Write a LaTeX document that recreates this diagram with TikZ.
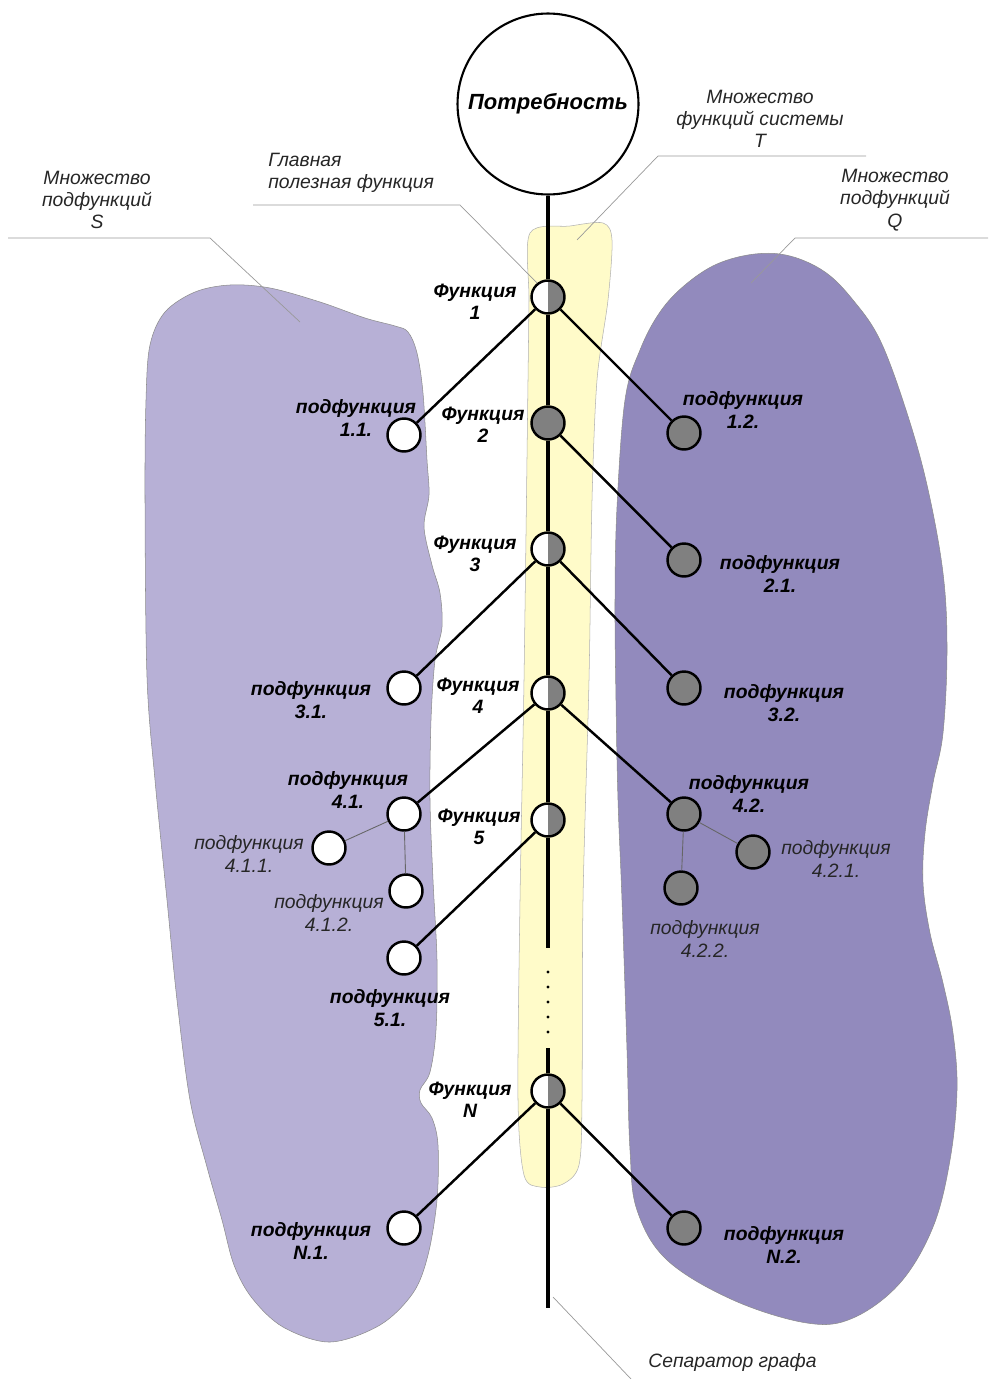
\documentclass[tikz,border=0pt]{standalone}
\usepackage{fontspec}
\setmainfont{Liberation Sans}
\usetikzlibrary{positioning, calc}

\definecolor{lavlight}{RGB}{183,176,214}
\definecolor{lavdark}{RGB}{146,138,189}
\definecolor{bandyellow}{RGB}{255,251,201}
\definecolor{nodegray}{RGB}{128,128,128}

\begin{document}
\begin{tikzpicture}[
    x=0.02cm, y=-0.02cm,
    blob/.style={draw=black!45, line width=0.3pt},
    need/.style={
        draw,
        circle,
        line width=1.2pt,
        minimum size=3.62cm,
        inner sep=0pt,
        font=\fontsize{12.5}{14}\selectfont\bfseries\itshape
    },
    wnode/.style={draw, circle, line width=1.4pt, fill=white, minimum size=0.66cm, inner sep=0pt},
    gnode/.style={wnode, fill=nodegray},
    hnode/.style={wnode, path picture={
        \fill[nodegray] (path picture bounding box.north) rectangle (path picture bounding box.south east);}},
    fnlbl/.style={align=center, inner sep=0pt, font=\fontsize{11}{12.7}\selectfont\bfseries\itshape},
    minorlbl/.style={align=center, inner sep=0pt, text=black!85, font=\fontsize{11}{12.7}\selectfont\itshape},
    note/.style={minorlbl},
    edge/.style={line width=1.4pt},
    twig/.style={line width=0.5pt, draw=black!60},
    leader/.style={line width=0.4pt, draw=black!40},
    sep/.style={line width=1.8pt}
]
\useasboundingbox (0,0) rectangle (988,1379);

% Sets of subfunctions and the band of system functions
\draw[blob, fill=lavlight] plot[smooth cycle, tension=0.55] coordinates {
    (165,312) (195,292) (230,285) (270,288) (320,302) (365,318) (395,326)
    (408,332) (417,353) (423,393) (427,460) (429,495) (424,527) (432,565)
    (440,593) (442,627) (435,660) (431,720) (430,800) (433,880) (437,960)
    (436,1030) (430,1072) (420,1090) (421,1103) (432,1118) (438,1145)
    (437,1200) (428,1255) (413,1293) (380,1325) (330,1342) (283,1327)
    (252,1298) (234,1265) (222,1220) (207,1167) (190,1100) (177,1000)
    (167,900) (155,780) (147,677) (145,500) (146,400) (150,345)};
\draw[blob, fill=lavdark] plot[smooth cycle, tension=0.6] coordinates {
    (755,254) (790,256) (825,272) (853,300) (880,340) (906,410) (927,485)
    (943,573) (947,650) (943,733) (933,783) (925,833) (923,883) (930,933)
    (943,983) (953,1033) (957,1090) (950,1160) (933,1227) (900,1283)
    (853,1318) (807,1323) (733,1300) (667,1260) (637,1210) (630,1150)
    (627,1050) (622,900) (618,800) (616,700) (615,600) (617,507) (625,400)
    (640,350) (660,312) (685,285) (717,264)};
\draw[blob, draw=black!30, fill=bandyellow] plot[smooth cycle, tension=0.5] coordinates {
    (530,233) (570,226) (603,223) (612,240) (608,300) (597,380) (592,500)
    (589,680) (583,900) (582,1100) (579,1165) (563,1184) (540,1187)
    (524,1175) (518,1100) (520,900) (524,680) (528,380) (529,300)};

% Leaders
\coordinate (sl0) at (8,238);
\coordinate (sl1) at (210,238);
\coordinate (slTip) at (300,322);
\coordinate (gl0) at (253,205);
\coordinate (gl1) at (460,205);
\coordinate (tl0) at (866,156);
\coordinate (tl1) at (658,156);
\coordinate (tlTip) at (577,240);
\coordinate (ql0) at (988,238);
\coordinate (ql1) at (795,238);
\coordinate (qlTip) at (751,283);
\coordinate (pl0) at (553,1297);
\coordinate (pl1) at (631,1379);
\draw[leader] (sl0) -- (sl1) -- (slTip);
\draw[leader] (tl0) -- (tl1) -- (tlTip);
\draw[leader] (ql0) -- (ql1) -- (qlTip);
\draw[leader] (pl0) -- (pl1);

\node[note] (setS) at (97,200) {Множество\\подфункций\\S};
\node[note, align=left, anchor=west] (mainfn) at (268,173) {Главная\\полезная функция};
\node[note] (setT) at (760,119) {Множество\\функций системы\\T};
\node[note] (setQ) at (895,200) {Множество\\подфункций\\Q};
\node[note, anchor=west] (seplbl) at (648,1362) {Сепаратор графа};

% Need and functions
\node[need] (need) at (548,104) {Потребность};
\node[hnode] (f1) at (548,297) {};
\node[gnode] (f2) at (548,423) {};
\node[hnode] (f3) at (548,549) {};
\node[hnode] (f4) at (548,693) {};
\node[hnode] (f5) at (548,820) {};
\node[hnode] (fN) at (548,1091) {};

\node[fnlbl] (f1l) at ($(f1)+(-73,5)$) {Функция\\1};
\node[fnlbl] (f2l) at ($(f2)+(-65,2)$) {Функция\\2};
\node[fnlbl] (f3l) at ($(f3)+(-73,5)$) {Функция\\3};
\node[fnlbl] (f4l) at ($(f4)+(-70,3)$) {Функция\\4};
\node[fnlbl] (f5l) at ($(f5)+(-69,7)$) {Функция\\5};
\node[fnlbl] (fNl) at ($(fN)+(-78,9)$) {Функция\\N};

% Subfunctions
\node[wnode] (s11) at (404,435) {};
\node[gnode] (s12) at (684,433) {};
\node[gnode] (s21) at (684,560) {};
\node[wnode] (s31) at (404,688) {};
\node[gnode] (s32) at (684,688) {};
\node[wnode] (s41) at (404,814) {};
\node[gnode] (s42) at (684,814) {};
\node[wnode] (s411) at (329,848) {};
\node[wnode] (s412) at (406,891) {};
\node[gnode] (s421) at (753,852) {};
\node[gnode] (s422) at (681,888) {};
\node[wnode] (s51) at (404,958) {};
\node[wnode] (sN1) at (404,1228) {};
\node[gnode] (sN2) at (684,1228) {};

\node[fnlbl] (s11l) at ($(s11)+(-48,-17)$) {подфункция\\1.1.};
\node[fnlbl] (s12l) at ($(s12)+(59,-23)$) {подфункция\\1.2.};
\node[fnlbl] (s21l) at ($(s21)+(96,14)$) {подфункция\\2.1.};
\node[fnlbl] (s31l) at ($(s31)+(-93,12)$) {подфункция\\3.1.};
\node[fnlbl] (s32l) at ($(s32)+(100,15)$) {подфункция\\3.2.};
\node[fnlbl] (s41l) at ($(s41)+(-56,-24)$) {подфункция\\4.1.};
\node[fnlbl] (s42l) at ($(s42)+(65,-20)$) {подфункция\\4.2.};
\node[minorlbl] (s411l) at ($(s411)+(-80,6)$) {подфункция\\4.1.1.};
\node[minorlbl] (s412l) at ($(s412)+(-77,22)$) {подфункция\\4.1.2.};
\node[minorlbl] (s421l) at ($(s421)+(83,7)$) {подфункция\\4.2.1.};
\node[minorlbl] (s422l) at ($(s422)+(24,51)$) {подфункция\\4.2.2.};
\node[fnlbl] (s51l) at ($(s51)+(-14,50)$) {подфункция\\5.1.};
\node[fnlbl] (sN1l) at ($(sN1)+(-93,13)$) {подфункция\\N.1.};
\node[fnlbl] (sN2l) at ($(sN2)+(100,17)$) {подфункция\\N.2.};

% Separator of the graph
\coordinate (gapA) at (548,948);
\coordinate (gapB) at (548,1048);
\coordinate (sepEnd) at (548,1308);
\draw[sep] (need) -- (f1) -- (f2) -- (f3) -- (f4) -- (f5) -- (gapA);
\draw[sep] (gapB) -- (fN) -- (sepEnd);
\foreach \yy in {972,987,1002,1017,1032}
    \fill (548,\yy) circle (0.9pt);

\draw[leader] (gl0) -- (gl1) -- (f1.128);

% Edges
\draw[edge] (f1) -- (s11);
\draw[edge] (f1) -- (s12);
\draw[edge] (f2) -- (s21);
\draw[edge] (f3) -- (s31);
\draw[edge] (f3) -- (s32);
\draw[edge] (f4) -- (s41);
\draw[edge] (f4) -- (s42);
\draw[edge] (f5) -- (s51);
\draw[edge] (fN) -- (sN1);
\draw[edge] (fN) -- (sN2);
\draw[twig] (s41) -- (s411);
\draw[twig] (s41) -- (s412);
\draw[twig] (s42) -- (s421);
\draw[twig] (s42) -- (s422);

\end{tikzpicture}
\end{document}
